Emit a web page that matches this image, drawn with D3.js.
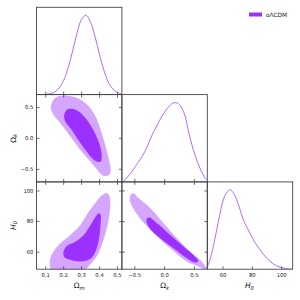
<!DOCTYPE html>
<html>
<head>
<meta charset="utf-8">
<script src="https://cdn.jsdelivr.net/npm/d3@7"></script>
<style>
  body { margin: 0; background: #fff; }
  svg { font-family: "DejaVu Sans", sans-serif; }
</style>
</head>
<body>
<svg class="chart" width="300" height="300"></svg>
<script>
// 1D marginals (normalised so the peak is ~1)
var omDens = [[0.10,0.004],[0.125,0.012],[0.15,0.034],[0.175,0.083],[0.20,0.18],[0.225,0.34],[0.25,0.55],[0.275,0.78],[0.30,0.95],[0.325,1.0],[0.35,0.91],[0.375,0.73],[0.40,0.50],[0.425,0.30],[0.45,0.15],[0.475,0.068],[0.50,0.026],[0.524,0.008]];
var okDens = [[-0.717,0.0],[-0.683,0.015],[-0.57,0.11],[-0.46,0.23],[-0.377,0.32],[-0.29,0.45],[-0.21,0.59],[-0.127,0.71],[-0.043,0.83],[0.04,0.92],[0.123,0.985],[0.175,1.0],[0.233,0.985],[0.29,0.93],[0.345,0.83],[0.40,0.64],[0.457,0.47],[0.51,0.34],[0.595,0.17],[0.678,0.05],[0.717,0.02]];
var h0Dens = [[49.3,0.025],[51.1,0.12],[53.4,0.285],[55.7,0.495],[58.0,0.705],[60.2,0.873],[62.5,0.965],[64.8,1.0],[67.0,0.965],[69.4,0.873],[71.6,0.75],[73.9,0.62],[77.3,0.495],[80.7,0.37],[85.3,0.243],[89.8,0.139],[94.3,0.067],[98.9,0.025],[105.7,0.0],[107.5,0.0]];

// 2D contours, [x, y] in data units
var okOm95 = [[0.171,0.679],[0.218,0.69],[0.275,0.653],[0.331,0.544],[0.378,0.354],[0.406,0.138],[0.434,-0.133],[0.453,-0.349],[0.462,-0.511],[0.453,-0.593],[0.425,-0.609],[0.396,-0.539],[0.35,-0.377],[0.293,-0.187],[0.237,0.029],[0.181,0.247],[0.143,0.381],[0.128,0.49],[0.143,0.625]];
var okOm68 = [[0.218,0.463],[0.246,0.479],[0.284,0.435],[0.321,0.328],[0.359,0.166],[0.387,0.003],[0.406,-0.159],[0.412,-0.295],[0.406,-0.377],[0.387,-0.377],[0.359,-0.321],[0.321,-0.187],[0.275,0.003],[0.237,0.166],[0.209,0.273],[0.203,0.381]];
var h0Om95 = [[0.124,55.0],[0.143,60.4],[0.181,65.9],[0.237,71.3],[0.293,77.8],[0.334,85.4],[0.378,92.4],[0.415,97.4],[0.444,98.5],[0.458,95.2],[0.458,87.6],[0.447,78.9],[0.428,70.2],[0.406,62.6],[0.38,56.5],[0.35,52.3],[0.315,48.3],[0.22,46.0],[0.135,47.5],[0.124,50.5]];
var h0Om68 = [[0.199,60.4],[0.218,64.1],[0.265,66.9],[0.312,71.3],[0.35,77.8],[0.378,83.2],[0.396,85.4],[0.406,84.3],[0.406,78.9],[0.40,71.3],[0.387,63.7],[0.368,58.2],[0.34,55.0],[0.293,53.9],[0.237,55.0],[0.203,57.1]];
var h0Ok95 = [[-0.572,97.4],[-0.527,98.5],[-0.433,95.2],[-0.238,88.7],[-0.017,78.9],[0.207,69.1],[0.428,60.4],[0.623,53.9],[0.74,47.0],[0.595,50.2],[0.373,53.9],[0.095,62.6],[-0.183,72.4],[-0.433,83.2],[-0.543,89.7],[-0.583,94.1]];
var h0Ok68 = [[-0.293,82.2],[-0.25,82.6],[-0.127,78.9],[0.095,71.3],[0.317,63.7],[0.512,57.1],[0.567,54.5],[0.528,53.2],[0.373,56.1],[0.15,62.6],[-0.072,69.1],[-0.238,75.0],[-0.305,80.0]];

var omTicks = [0.1, 0.2, 0.3, 0.4, 0.5];
var okTicks = [-0.5, 0.0, 0.5];
var h0Ticks = [60, 80, 100];
var legendLabel = "oΛCDM";

var dark = "#9b30ff", light = "#d4a6ff", lineCol = "#b16cff";

var svg = d3.select(".chart");
var x0 = 36.5, y0 = 7.3, cw = 85.4, ch = 87.3;

var fmt1 = function (d) { return d3.format(".1f")(d).replace("-", "\u2212"); };
var fmt0 = d3.format("d");

var params = [
    {ticks: omTicks, fmt: fmt1, xdom: [0.0485, 0.5245], ydom: [0.0485, 0.5245]},
    {ticks: okTicks, fmt: fmt1, xdom: [-0.717, 0.717], ydom: [-0.703, 0.707]},
    {ticks: h0Ticks, fmt: fmt0, xdom: [49.3, 107.5], ydom: [48.9, 105.9]}
];

function xs(i) { return d3.scaleLinear().domain(params[i].xdom).range([x0 + i * cw, x0 + (i + 1) * cw]); }
function ys(j) { return d3.scaleLinear().domain(params[j].ydom).range([y0 + (j + 1) * ch, y0 + j * ch]); }

var defs = svg.append("defs");
var tl = 3;

function panel(i, j) {
    var id = "clip" + i + j;
    defs.append("clipPath").attr("id", id).append("rect")
        .attr("x", x0 + i * cw).attr("y", y0 + j * ch).attr("width", cw).attr("height", ch);
    return svg.append("g").attr("clip-path", "url(#" + id + ")");
}

function frame(i, j, allSides) {
    var x = xs(i), g = svg.append("g");
    var top = y0 + j * ch, bot = y0 + (j + 1) * ch;
    params[i].ticks.forEach(function (t) {
        g.append("line").attr("x1", x(t)).attr("x2", x(t)).attr("y1", bot).attr("y2", bot - tl);
        if (allSides) g.append("line").attr("x1", x(t)).attr("x2", x(t)).attr("y1", top).attr("y2", top + tl);
    });
    if (allSides) {
        var y = ys(j), l = x0 + i * cw, r = x0 + (i + 1) * cw;
        params[j].ticks.forEach(function (t) {
            g.append("line").attr("y1", y(t)).attr("y2", y(t)).attr("x1", l).attr("x2", l + tl);
            g.append("line").attr("y1", y(t)).attr("y2", y(t)).attr("x1", r).attr("x2", r - tl);
        });
    }
    g.selectAll("line").attr("stroke", "#333").attr("stroke-width", 0.7);
    g.append("rect").attr("x", x0 + i * cw).attr("y", top).attr("width", cw).attr("height", ch)
        .attr("fill", "none").attr("stroke", "#444").attr("stroke-width", 0.9);
}

// diagonal
var dens = [omDens, okDens, h0Dens];
dens.forEach(function (d, i) {
    var x = xs(i);
    var y = d3.scaleLinear().domain([0, 1.1]).range([y0 + (i + 1) * ch, y0 + i * ch]);
    panel(i, i).append("path").datum(d)
        .attr("d", d3.line().x(function (p) { return x(p[0]); }).y(function (p) { return y(p[1]); }).curve(d3.curveCatmullRom))
        .attr("fill", "none").attr("stroke", lineCol).attr("stroke-width", 1);
});

// 2D
var pairs = [
    {i: 0, j: 1, c95: okOm95, c68: okOm68},
    {i: 0, j: 2, c95: h0Om95, c68: h0Om68},
    {i: 1, j: 2, c95: h0Ok95, c68: h0Ok68}
];
pairs.forEach(function (p) {
    var x = xs(p.i), y = ys(p.j), g = panel(p.i, p.j);
    var line = d3.line().x(function (d) { return x(d[0]); }).y(function (d) { return y(d[1]); }).curve(d3.curveCatmullRomClosed);
    g.append("path").datum(p.c95).attr("d", line).attr("fill", light);
    g.append("path").datum(p.c68).attr("d", line).attr("fill", dark);
});

[[0, 0], [1, 1], [2, 2]].forEach(function (d) { frame(d[0], d[1], false); });
pairs.forEach(function (p) { frame(p.i, p.j, true); });

// tick labels
var bottom = y0 + 3 * ch;
[0, 1, 2].forEach(function (i) {
    var x = xs(i);
    svg.append("g").selectAll("text").data(params[i].ticks).enter().append("text")
        .attr("x", function (d) { return x(d); }).attr("y", bottom + 7.3)
        .attr("text-anchor", "middle").attr("font-size", 5.3).attr("fill", "#222")
        .text(params[i].fmt);
});
[1, 2].forEach(function (j) {
    var y = ys(j);
    svg.append("g").selectAll("text").data(params[j].ticks).enter().append("text")
        .attr("x", x0 - 3).attr("y", function (d) { return y(d); }).attr("dy", "0.35em")
        .attr("text-anchor", "end").attr("font-size", 5.3).attr("fill", "#222")
        .text(params[j].fmt);
});

// axis labels
function label(x, y, main, sub, italic, rot) {
    var t = svg.append("text").attr("text-anchor", "middle").attr("font-size", 7.5).attr("fill", "#111")
        .attr("transform", "translate(" + x + "," + y + ")" + (rot ? " rotate(-90)" : ""));
    t.append("tspan").attr("font-style", italic ? "italic" : "normal").text(main);
    t.append("tspan").attr("font-size", 5.3).attr("dy", 1.8).attr("font-style", "italic").text(sub);
}
label(xs(0)(0.286), 288, "\u03A9", "m", false, false);
label(xs(1)(0), 288, "\u03A9", "k", false, false);
label(xs(2)(78), 288, "H", "0", true, false);
label(15.5, ys(1)(0), "\u03A9", "k", false, true);
label(15.5, ys(2)(77.5), "H", "0", true, true);

// legend
svg.append("rect").attr("x", 249).attr("y", 12.5).attr("width", 13).attr("height", 4).attr("fill", dark);
svg.append("text").attr("x", 266).attr("y", 14.6).attr("dy", "0.35em").attr("font-size", 5.8).attr("fill", "#111").text(legendLabel);
</script>
</body>
</html>
